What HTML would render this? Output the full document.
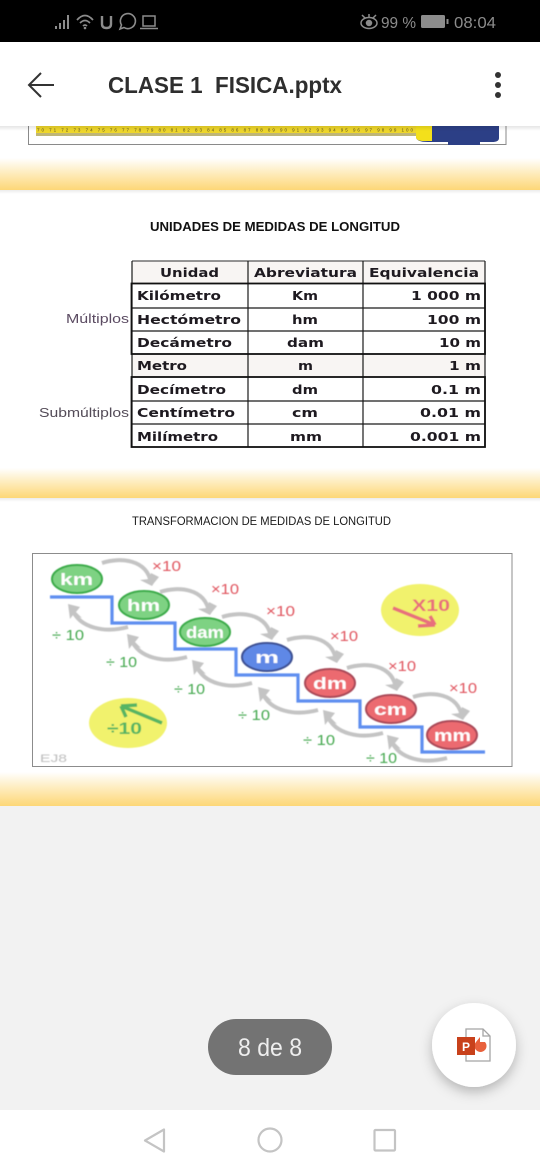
<!DOCTYPE html>
<html lang="es">
<head>
<meta charset="utf-8">
<title>CLASE 1 FISICA.pptx</title>
<style>
html,body{margin:0;padding:0;background:#f2f2f2;width:540px;height:1170px;overflow:hidden}
svg{display:block;position:absolute;left:0;top:0}
text{font-family:"Liberation Sans",sans-serif}
.t{font-family:"DejaVu Sans","Liberation Sans",sans-serif;font-weight:bold;font-size:12px;fill:#1e1a20}
.lbl{font-size:15px;fill:#e0555f}
.div{font-size:15px;fill:#45a84f}
.bub{font-weight:bold;font-size:17px;fill:#fff}
.arr{fill:none;stroke:#c4c4c4;stroke-width:4}
.head{fill:#c4c4c4;stroke:none}
.grid{stroke:#1a1a1a;stroke-width:1.2}
</style>
</head>
<body>
<svg width="540" height="1170" viewBox="0 0 540 1170" xmlns="http://www.w3.org/2000/svg">
<defs>
<linearGradient id="band" x1="0" y1="0" x2="0" y2="1">
<stop offset="0" stop-color="#ffffff"/>
<stop offset="0.45" stop-color="#feedc0"/>
<stop offset="1" stop-color="#fdd777"/>
</linearGradient>
<linearGradient id="hshadow" x1="0" y1="0" x2="0" y2="1">
<stop offset="0" stop-color="#000" stop-opacity="0.1"/>
<stop offset="1" stop-color="#000" stop-opacity="0"/>
</linearGradient>
<linearGradient id="bshadow" x1="0" y1="0" x2="0" y2="1">
<stop offset="0" stop-color="#ececec"/>
<stop offset="1" stop-color="#ffffff"/>
</linearGradient>
<filter id="soft" x="-10%" y="-10%" width="120%" height="120%"><feGaussianBlur stdDeviation="0.45"/></filter>
<filter id="fabshadow" x="-30%" y="-30%" width="160%" height="170%"><feDropShadow dx="0" dy="5" stdDeviation="6" flood-color="#000" flood-opacity="0.25"/></filter>
</defs>

<!-- page background -->
<rect x="0" y="806" width="540" height="304" fill="#f2f2f2"/>

<!-- slide area -->
<g>
<rect x="0" y="126" width="540" height="680" fill="#ffffff"/>
<g>
<rect x="28.5" y="120" width="477.5" height="24.5" fill="#fff" stroke="#8a8a8a" stroke-width="1"/>
<rect x="36" y="126" width="382" height="7" fill="#eed62a"/>
<rect x="36" y="133" width="382" height="3" fill="#bfb676"/>
<text x="37" y="131.500" font-size="4.500" fill="#5a5020" textLength="376" lengthAdjust="spacing">70 71 72 73 74 75 76 77 78 79 80 81 82 83 84 85 86 87 88 89 90 91 92 93 94 95 96 97 98 99 100</text>
<path d="M416 126H499V138Q499 142 492 142H480V145H448V145V142H428Q416 142 416 137Z" fill="#2c3f86"/>
<path d="M416 126H432V141H424Q416 141 416 137Z" fill="#f3e01b"/>
</g>
<rect x="0" y="158" width="540" height="32" fill="url(#band)"/>
<rect x="0" y="190" width="540" height="4" fill="url(#bshadow)"/>

<text x="150" y="231" font-size="13" font-weight="bold" fill="#111" textLength="250" lengthAdjust="spacingAndGlyphs">UNIDADES DE MEDIDAS DE LONGITUD</text>

<g>
<rect x="132" y="261" width="353" height="22" fill="#f8f5f3"/>
<rect x="132" y="354" width="353" height="23" fill="#f8f5f3"/>
<g class="grid">
<line x1="132" y1="261" x2="485" y2="261" stroke="#555"/>
<line x1="132" y1="308" x2="485" y2="308"/>
<line x1="132" y1="331" x2="485" y2="331"/>
<line x1="132" y1="401" x2="485" y2="401"/>
<line x1="132" y1="424" x2="485" y2="424"/>
<line x1="248" y1="261" x2="248" y2="447"/>
<line x1="363" y1="261" x2="363" y2="447"/>
<line x1="132" y1="261" x2="132" y2="447"/>
<line x1="485" y1="261" x2="485" y2="447"/>
</g>
<rect x="131.500" y="283.500" width="353.500" height="70.500" fill="none" stroke="#111" stroke-width="1.800"/>
<rect x="131.500" y="377" width="353.500" height="70" fill="none" stroke="#111" stroke-width="1.800"/>

<text class="t" x="160" y="277" textLength="59" lengthAdjust="spacingAndGlyphs">Unidad</text>
<text class="t" x="254" y="277" textLength="103" lengthAdjust="spacingAndGlyphs">Abreviatura</text>
<text class="t" x="369" y="277" textLength="110" lengthAdjust="spacingAndGlyphs">Equivalencia</text>

<text class="t" x="137" y="300" textLength="84" lengthAdjust="spacingAndGlyphs">Kilómetro</text>
<text class="t" x="292" y="300" textLength="26" lengthAdjust="spacingAndGlyphs">Km</text>
<text class="t" x="411" y="300" textLength="70" lengthAdjust="spacingAndGlyphs">1 000 m</text>

<text class="t" x="137" y="324" textLength="104" lengthAdjust="spacingAndGlyphs">Hectómetro</text>
<text class="t" x="292" y="324" textLength="26" lengthAdjust="spacingAndGlyphs">hm</text>
<text class="t" x="427" y="324" textLength="54" lengthAdjust="spacingAndGlyphs">100 m</text>

<text class="t" x="137" y="347" textLength="95" lengthAdjust="spacingAndGlyphs">Decámetro</text>
<text class="t" x="287" y="347" textLength="37" lengthAdjust="spacingAndGlyphs">dam</text>
<text class="t" x="439" y="347" textLength="42" lengthAdjust="spacingAndGlyphs">10 m</text>

<text class="t" x="137" y="370" textLength="50" lengthAdjust="spacingAndGlyphs">Metro</text>
<text class="t" x="298" y="370" textLength="15" lengthAdjust="spacingAndGlyphs">m</text>
<text class="t" x="449" y="370" textLength="32" lengthAdjust="spacingAndGlyphs">1 m</text>

<text class="t" x="137" y="394" textLength="89" lengthAdjust="spacingAndGlyphs">Decímetro</text>
<text class="t" x="292" y="394" textLength="26" lengthAdjust="spacingAndGlyphs">dm</text>
<text class="t" x="431" y="394" textLength="50" lengthAdjust="spacingAndGlyphs">0.1 m</text>

<text class="t" x="137" y="417" textLength="98" lengthAdjust="spacingAndGlyphs">Centímetro</text>
<text class="t" x="292" y="417" textLength="26" lengthAdjust="spacingAndGlyphs">cm</text>
<text class="t" x="420" y="417" textLength="61" lengthAdjust="spacingAndGlyphs">0.01 m</text>

<text class="t" x="137" y="441" textLength="81" lengthAdjust="spacingAndGlyphs">Milímetro</text>
<text class="t" x="290" y="441" textLength="32" lengthAdjust="spacingAndGlyphs">mm</text>
<text class="t" x="410" y="441" textLength="71" lengthAdjust="spacingAndGlyphs">0.001 m</text>
</g>

<text x="66" y="323" font-size="13" fill="#5b4b62" textLength="63" lengthAdjust="spacingAndGlyphs">Múltiplos</text>
<text x="39" y="417" font-size="13" fill="#544c58" textLength="90" lengthAdjust="spacingAndGlyphs">Submúltiplos</text>

<rect x="0" y="468" width="540" height="30" fill="url(#band)"/>
<rect x="0" y="498" width="540" height="4" fill="url(#bshadow)"/>

<text x="132" y="525" font-size="11.500" fill="#1a1a1a" textLength="259" lengthAdjust="spacingAndGlyphs">TRANSFORMACION DE MEDIDAS DE LONGITUD</text>

<g>
<rect x="32.500" y="553.500" width="479.500" height="213" fill="#fff" stroke="#8c8c8c" stroke-width="1"/>
<g filter="url(#soft)">
<ellipse cx="128" cy="723" rx="39" ry="25" fill="#f1f26d"/>
<ellipse cx="420" cy="610" rx="39" ry="26" fill="#f1f26d"/>
<path d="M162 723L121 706M121 706L137 705M121 706L126 717" fill="none" stroke="#56b564" stroke-width="3.500"/>
<path d="M393 608L435 625M435 625L418 626M435 625L430 616" fill="none" stroke="#e8707c" stroke-width="3.500"/>

<path d="M50 597H112V623H175V649H236V675H298V701H360V727H422V752H485" fill="none" stroke="#5f8ff0" stroke-width="3.200"/>

<g>
<g transform="translate(102,563)"><path class="arr" d="M0 0C18 -6 45 -4 49 20"/><path class="head" d="M50 23L38 17L47 16L49 10L57 14L52 20Z"/></g>
<g transform="translate(160,592)"><path class="arr" d="M0 0C18 -6 45 -4 49 20"/><path class="head" d="M50 23L38 17L47 16L49 10L57 14L52 20Z"/></g>
<g transform="translate(222,617)"><path class="arr" d="M0 0C18 -6 45 -4 49 20"/><path class="head" d="M50 23L38 17L47 16L49 10L57 14L52 20Z"/></g>
<g transform="translate(287,640)"><path class="arr" d="M0 0C18 -6 45 -4 49 20"/><path class="head" d="M50 23L38 17L47 16L49 10L57 14L52 20Z"/></g>
<g transform="translate(347,668)"><path class="arr" d="M0 0C18 -6 45 -4 49 20"/><path class="head" d="M50 23L38 17L47 16L49 10L57 14L52 20Z"/></g>
<g transform="translate(413,697)"><path class="arr" d="M0 0C18 -6 45 -4 49 20"/><path class="head" d="M50 23L38 17L47 16L49 10L57 14L52 20Z"/></g>
</g>
<g>
<g transform="translate(128,627)"><path class="arr" d="M0 0C-22 6 -48 2 -56 -18"/><path class="head" d="M-60 -23L-48 -20L-52 -15L-46 -9L-55 -12L-58 -8Z"/></g>
<g transform="translate(187,657)"><path class="arr" d="M0 0C-22 6 -48 2 -56 -18"/><path class="head" d="M-60 -23L-48 -20L-52 -15L-46 -9L-55 -12L-58 -8Z"/></g>
<g transform="translate(252,683)"><path class="arr" d="M0 0C-22 6 -48 2 -56 -18"/><path class="head" d="M-60 -23L-48 -20L-52 -15L-46 -9L-55 -12L-58 -8Z"/></g>
<g transform="translate(318,710)"><path class="arr" d="M0 0C-22 6 -48 2 -56 -18"/><path class="head" d="M-60 -23L-48 -20L-52 -15L-46 -9L-55 -12L-58 -8Z"/></g>
<g transform="translate(383,733)"><path class="arr" d="M0 0C-22 6 -48 2 -56 -18"/><path class="head" d="M-60 -23L-48 -20L-52 -15L-46 -9L-55 -12L-58 -8Z"/></g>
<g transform="translate(447,758)"><path class="arr" d="M0 0C-22 6 -48 2 -56 -18"/><path class="head" d="M-60 -23L-48 -20L-52 -15L-46 -9L-55 -12L-58 -8Z"/></g>
</g>

<ellipse cx="77" cy="579" rx="25" ry="14" fill="#7ed283" stroke="#3bab48" stroke-width="2"/>
<ellipse cx="144" cy="605" rx="25" ry="14" fill="#7ed283" stroke="#3bab48" stroke-width="2"/>
<ellipse cx="205" cy="632" rx="25" ry="14" fill="#7ed283" stroke="#3bab48" stroke-width="2"/>
<ellipse cx="267" cy="657" rx="25" ry="14" fill="#5f88e6" stroke="#3c4f92" stroke-width="2"/>
<ellipse cx="330" cy="683" rx="25" ry="14" fill="#ec6a70" stroke="#a94a58" stroke-width="2"/>
<ellipse cx="391" cy="709" rx="25" ry="14" fill="#ec6a70" stroke="#a94a58" stroke-width="2"/>
<ellipse cx="452" cy="735" rx="25" ry="14" fill="#ec6a70" stroke="#a94a58" stroke-width="2"/>

<text class="bub" x="60" y="585" textLength="33" lengthAdjust="spacingAndGlyphs">km</text>
<text class="bub" x="127" y="611" textLength="33" lengthAdjust="spacingAndGlyphs">hm</text>
<text class="bub" x="186" y="638" textLength="38" lengthAdjust="spacingAndGlyphs">dam</text>
<text class="bub" x="255" y="663" textLength="24" lengthAdjust="spacingAndGlyphs">m</text>
<text class="bub" x="313" y="689" textLength="34" lengthAdjust="spacingAndGlyphs">dm</text>
<text class="bub" x="374" y="715" textLength="33" lengthAdjust="spacingAndGlyphs">cm</text>
<text class="bub" x="434" y="741" textLength="37" lengthAdjust="spacingAndGlyphs">mm</text>

<text class="lbl" x="152" y="571" textLength="29" lengthAdjust="spacingAndGlyphs">×10</text>
<text class="lbl" x="211" y="594" textLength="28" lengthAdjust="spacingAndGlyphs">×10</text>
<text class="lbl" x="266" y="616" textLength="29" lengthAdjust="spacingAndGlyphs">×10</text>
<text class="lbl" x="330" y="641" textLength="28" lengthAdjust="spacingAndGlyphs">×10</text>
<text class="lbl" x="388" y="671" textLength="28" lengthAdjust="spacingAndGlyphs">×10</text>
<text class="lbl" x="449" y="693" textLength="28" lengthAdjust="spacingAndGlyphs">×10</text>

<text class="div" x="52" y="640" textLength="32" lengthAdjust="spacingAndGlyphs">÷ 10</text>
<text class="div" x="106" y="667" textLength="31" lengthAdjust="spacingAndGlyphs">÷ 10</text>
<text class="div" x="174" y="694" textLength="31" lengthAdjust="spacingAndGlyphs">÷ 10</text>
<text class="div" x="238" y="720" textLength="32" lengthAdjust="spacingAndGlyphs">÷ 10</text>
<text class="div" x="303" y="745" textLength="32" lengthAdjust="spacingAndGlyphs">÷ 10</text>
<text class="div" x="366" y="763" textLength="31" lengthAdjust="spacingAndGlyphs">÷ 10</text>

<text x="412" y="611" font-size="17" font-weight="bold" fill="#e8707c" textLength="38" lengthAdjust="spacingAndGlyphs">X10</text>
<text x="107" y="734" font-size="17" font-weight="bold" fill="#56b564" textLength="35" lengthAdjust="spacingAndGlyphs">÷10</text>
<text x="40" y="762" font-size="11" fill="#bdbdbd" textLength="27" lengthAdjust="spacingAndGlyphs">EJ8</text>
</g>
</g>

<rect x="0" y="772" width="540" height="34" fill="url(#band)"/>
</g>

<!-- header -->
<g>
<rect x="0" y="126" width="540" height="5" fill="url(#hshadow)"/>
<rect x="0" y="42" width="540" height="84" fill="#fff"/>
<g>
<path d="M54 85H29M41 73L29 85L41 97" fill="none" stroke="#333" stroke-width="2"/>
</g>
<text x="108" y="93" font-size="23" font-weight="bold" fill="#2e2e2e" xml:space="preserve" textLength="234" lengthAdjust="spacingAndGlyphs">CLASE 1  FISICA.pptx</text>
<g fill="#333">
<circle cx="498" cy="75" r="3"/><circle cx="498" cy="85" r="3"/><circle cx="498" cy="95" r="3"/>
</g>
</g>

<!-- status bar -->
<g>
<rect x="0" y="0" width="540" height="42" fill="#000"/>
<g fill="#8c8c8c">
<rect x="55" y="26" width="2" height="3"/><rect x="59" y="23" width="2" height="6"/><rect x="63" y="20" width="2" height="9"/><rect x="67" y="15" width="2" height="14"/>
</g>
<g fill="none" stroke="#8c8c8c" stroke-width="1.700">
<path d="M77 20Q85 11 93 20"/><path d="M80 23Q85 18 90 23"/><path d="M83 26Q85 24 87 26"/>
</g>
<circle cx="85" cy="28" r="1.300" fill="#8c8c8c"/>
<path d="M102 16V24Q102 28 106.500 28Q111 28 111 24V16" fill="none" stroke="#8c8c8c" stroke-width="2.400"/>
<g fill="none" stroke="#8c8c8c" stroke-width="1.600">
<path d="M120 29L121.500 25A7.500 7.500 0 1 1 124 27.500Z"/>
</g>
<g fill="none" stroke="#8c8c8c" stroke-width="1.500">
<rect x="143" y="16" width="12" height="10"/><path d="M140 28.500H158"/>
</g>
<g fill="none" stroke="#8c8c8c" stroke-width="1.500">
<ellipse cx="369" cy="23" rx="8" ry="5.500"/><circle cx="369" cy="23" r="2.500" fill="#8c8c8c"/><path d="M362 15L365 18M369 14V17M376 15L373 18"/>
</g>
<text x="381" y="28" font-size="16" fill="#8c8c8c" textLength="35" lengthAdjust="spacingAndGlyphs">99 %</text>
<rect x="421" y="15" width="24" height="13" rx="1.500" fill="#8c8c8c"/>
<rect x="446.500" y="19" width="2" height="5" fill="#8c8c8c"/>
<text x="454" y="28" font-size="16" fill="#8c8c8c" textLength="42" lengthAdjust="spacingAndGlyphs">08:04</text>
</g>

<!-- floating controls -->
<g>
<rect x="208" y="1019" width="124" height="56" rx="28" fill="#737373"/>
<text x="270" y="1056" font-size="25" fill="#eeeeee" text-anchor="middle" textLength="64" lengthAdjust="spacingAndGlyphs">8 de 8</text>
</g>
<g>
<circle cx="474" cy="1045" r="42" fill="#fff" filter="url(#fabshadow)"/>
<path d="M466 1029H483L490 1036V1061H466Z" fill="#fff" stroke="#a5a5a5" stroke-width="1.300"/>
<path d="M483 1029V1036H490" fill="none" stroke="#a5a5a5" stroke-width="1.300"/>
<path d="M477 1041A6 6 0 1 0 486 1041H481V1036" fill="#e8613c" transform="translate(-1,1)"/>
<rect x="457" y="1037" width="18" height="18" fill="#c8411b"/>
<text x="466" y="1051" font-size="12" font-weight="bold" fill="#fff" text-anchor="middle">P</text>
</g>

<!-- nav bar -->
<g>
<rect x="0" y="1110" width="540" height="60" fill="#fff"/>
<path d="M164 1129.500V1151.500L145 1140.500Z" fill="none" stroke="#c4c4c4" stroke-width="2.200" stroke-linejoin="round"/>
<circle cx="270" cy="1140" r="11.500" fill="none" stroke="#c4c4c4" stroke-width="2.200"/>
<rect x="374.500" y="1130" width="20.500" height="20.500" rx="1" fill="none" stroke="#c4c4c4" stroke-width="2.200"/>
</g>
</svg>
</body>
</html>
